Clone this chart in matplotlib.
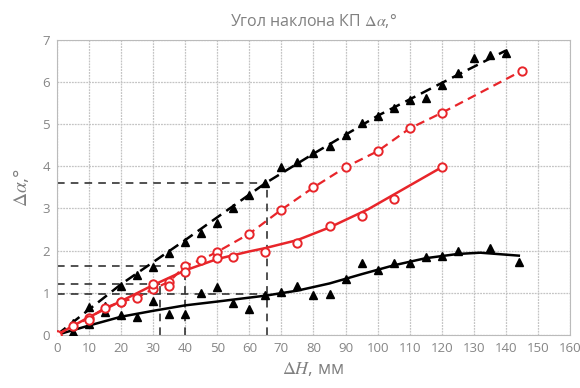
import matplotlib
matplotlib.use("Agg")
import matplotlib.pyplot as plt

plt.rcParams['font.family'] = ['Open Sans', 'DejaVu Sans']
plt.rcParams['mathtext.fontset'] = 'stix'

# upper black series (dashed fit), triangles
bk_up_x = [0, 5, 10, 15, 20, 25, 30, 35, 40, 45, 50, 55, 60, 65, 70, 75, 80, 85, 90, 95,
           100, 105, 110, 115, 120, 125, 130, 135, 140]
bk_up_y = [0.0, 0.28, 0.67, 0.69, 1.16, 1.42, 1.6, 1.95, 2.2, 2.42, 2.65, 3.0, 3.32, 3.6,
           3.99, 4.11, 4.32, 4.49, 4.75, 5.03, 5.2, 5.39, 5.58, 5.63, 5.94, 6.22, 6.56, 6.65, 6.7]
bk_up_fit_x = [0, 20, 40, 65, 80, 100, 120, 140]
bk_up_fit_y = [0.0, 1.2, 2.25, 3.6, 4.3, 5.2, 5.98, 6.75]

# lower black series (solid fit), triangles
bk_lo_x = [0, 5, 10, 15, 20, 25, 30, 35, 40, 45, 50, 55, 60, 65, 70, 75, 80, 85, 90, 95,
           100, 105, 110, 115, 120, 125, 135, 144]
bk_lo_y = [0.0, 0.07, 0.26, 0.55, 0.48, 0.43, 0.81, 0.5, 0.5, 1.0, 1.14, 0.76, 0.62, 0.95,
           1.02, 1.16, 0.95, 0.97, 1.33, 1.71, 1.54, 1.71, 1.71, 1.85, 1.88, 2.0, 2.06, 1.73]
bk_lo_fit_x = [0, 10, 20, 30, 40, 50, 65, 75, 85, 95, 105, 115, 125, 132, 144]
bk_lo_fit_y = [0.0, 0.22, 0.43, 0.57, 0.7, 0.79, 0.93, 1.05, 1.22, 1.44, 1.65, 1.82, 1.92, 1.95, 1.88]

# upper red series (dashed), circles
rd_up_x = [0, 5, 10, 15, 20, 25, 30, 35, 40, 45, 50, 60, 70, 80, 90, 100, 110, 120, 145]
rd_up_y = [0.0, 0.2, 0.4, 0.64, 0.79, 0.88, 1.09, 1.26, 1.64, 1.78, 1.97, 2.4, 2.97, 3.5,
           3.98, 4.36, 4.9, 5.27, 6.27]

# lower red series (solid), circles
rd_lo_x = [0, 10, 20, 30, 35, 40, 50, 55, 65, 75, 85, 95, 105, 120]
rd_lo_y = [0.0, 0.36, 0.79, 1.2, 1.16, 1.5, 1.83, 1.85, 1.97, 2.18, 2.59, 2.83, 3.23, 3.98]
rd_lo_fit_x = [0, 10, 20, 30, 40, 50, 60, 65, 75, 85, 97, 120]
rd_lo_fit_y = [0.0, 0.42, 0.8, 1.18, 1.53, 1.8, 1.98, 2.06, 2.25, 2.55, 2.98, 3.98]

# reference (projection) lines: (x, y)
ref_pts = [(65.5, 3.6), (40, 1.63), (32, 1.2), (65.5, 0.97)]

fig = plt.figure(figsize=(5.8, 3.88), dpi=100)
ax = fig.add_axes([0.098, 0.137, 0.885, 0.76])

for xr, yr in ref_pts:
    ax.plot([0, xr], [yr, yr], color='#222222', lw=1.1, ls=(0, (5, 4)), zorder=2)
for xr, yr in ref_pts[:3]:
    ax.plot([xr, xr], [0, yr], color='#222222', lw=1.1, ls=(0, (5, 4)), zorder=2)

ax.plot(bk_up_fit_x, bk_up_fit_y, color='black', lw=1.8, ls=(0, (4.5, 2.5)), zorder=3)
ax.plot(bk_up_x, bk_up_y, ls='none', marker='^', ms=5.5, color='black', zorder=4)

ax.plot(bk_lo_fit_x, bk_lo_fit_y, color='black', lw=1.8, zorder=3)
ax.plot(bk_lo_x, bk_lo_y, ls='none', marker='^', ms=5.5, color='black', zorder=4)

ax.plot(rd_up_x, rd_up_y, color='#e8252a', lw=1.6, ls=(0, (4, 2.5)), zorder=3)
ax.plot(rd_up_x, rd_up_y, ls='none', marker='o', ms=6, mfc='white', mec='#e8252a',
        mew=1.4, zorder=4)

ax.plot(rd_lo_fit_x, rd_lo_fit_y, color='#e8252a', lw=1.8, zorder=3)
ax.plot(rd_lo_x, rd_lo_y, ls='none', marker='o', ms=6, mfc='white', mec='#e8252a',
        mew=1.4, zorder=4)

ax.set_xlim(0, 160)
ax.set_ylim(0, 7)
ax.set_xticks(range(0, 161, 10))
ax.set_yticks(range(0, 8))
ax.grid(True, color='#c4c4c4', lw=0.9, ls=(0, (1.5, 0.8)))
ax.set_axisbelow(True)
ax.tick_params(length=0, labelsize=9.5, labelcolor='#858585', pad=5)
for sp in ax.spines.values():
    sp.set_color('#bbbbbb')

ax.set_title(r'Угол наклона КП $\Delta\alpha$,°', color='#808080', fontsize=11.5, pad=10)
ax.set_ylabel(r'$\Delta\alpha$,°', color='#808080', fontsize=14, labelpad=8)
ax.set_xlabel(r'$\Delta H$, мм', color='#808080', fontsize=13, labelpad=4)

fig.savefig('out.png', dpi=100)
